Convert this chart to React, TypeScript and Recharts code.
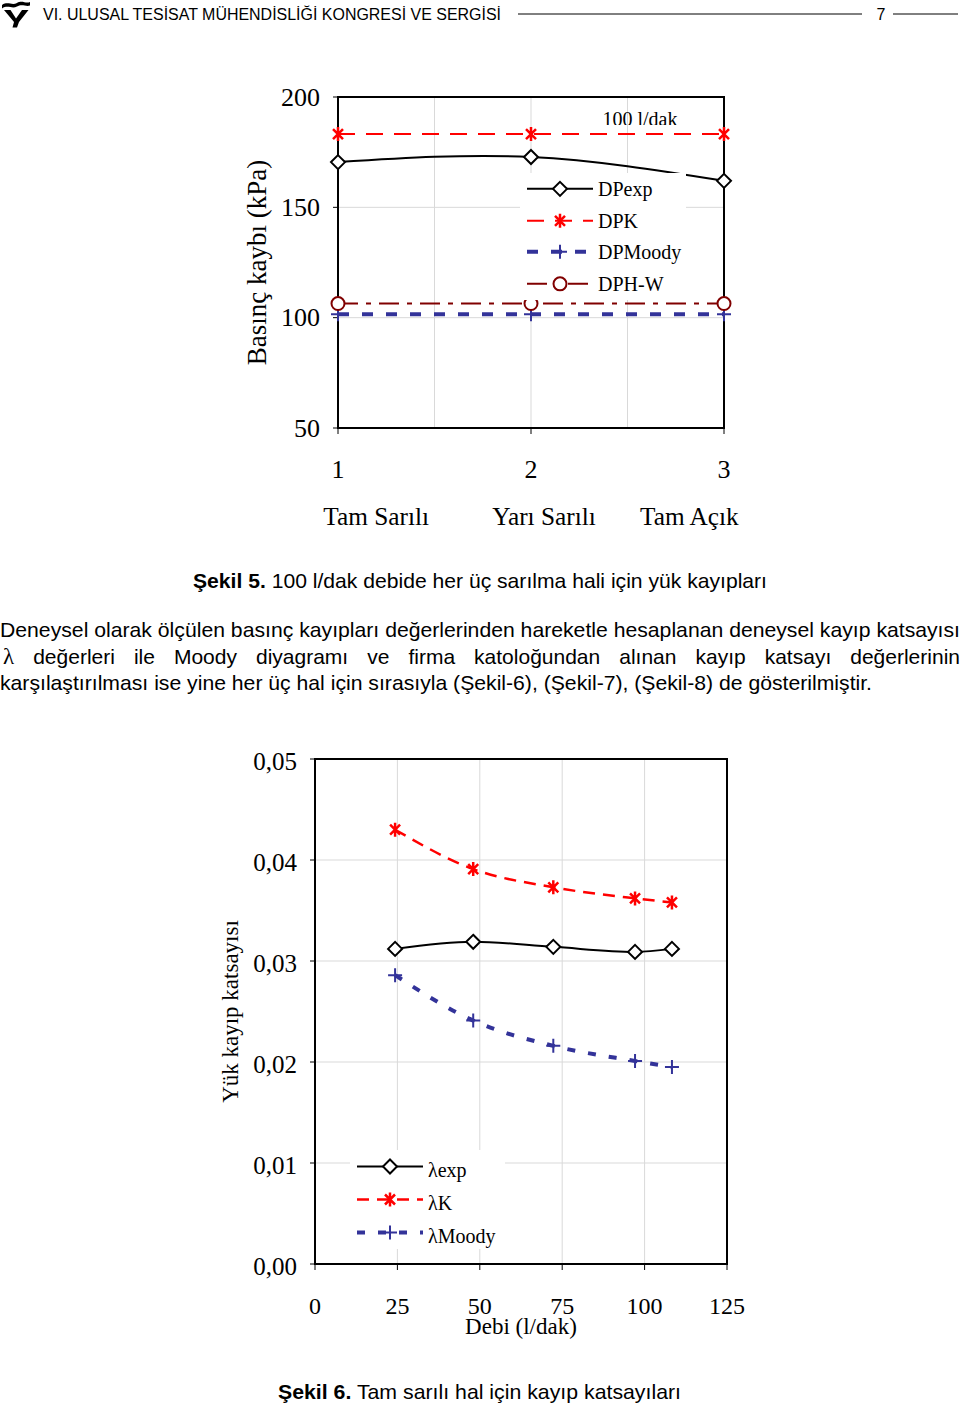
import React from 'react';
import { LineChart, Line, XAxis, YAxis, CartesianGrid, ReferenceArea, Legend } from 'recharts';

const SERIF = '"Liberation Serif", "Times New Roman", Times, serif';
const SANS = '"Liberation Sans", Arial, Helvetica, sans-serif';

// ---------- Şekil 5 data ----------
const caseNo = [1, 2, 3];
const dpExp = [170.5, 172.8, 162.0];
const dpK = [183.2, 183.2, 183.2];
const dpMoody = [101.6, 101.6, 101.6];
const dpHW = [106.4, 106.4, 106.4];
const yTicks5 = [50, 100, 150, 200];
const xTicks5 = [1, 1.5, 2, 2.5, 3];
const xLabels5 = [1, 2, 3];
const caseNames = ['Tam Sarılı', 'Yarı Sarılı', 'Tam Açık'];
const names5 = ['DPexp', 'DPK', 'DPMoody', 'DPH-W'];
const title5 = '100 l/dak';

// ---------- Şekil 6 data ----------
const flow = [24.3, 48.0, 72.3, 97.1, 108.3];
const lamExp = [0.0312, 0.0319, 0.0314, 0.0309, 0.0312];
const lamK = [0.043, 0.0391, 0.0373, 0.0362, 0.0358];
const lamMoody = [0.0286, 0.0241, 0.0216, 0.0201, 0.0195];
const xTicks6 = [0, 25, 50, 75, 100, 125];
const yTicks6 = [0, 0.01, 0.02, 0.03, 0.04, 0.05];
const names6 = ['λexp', 'λK', 'λMoody'];

const data5 = caseNo.map((c, i) => ({ c, exp: dpExp[i], k: dpK[i], moody: dpMoody[i], hw: dpHW[i] }));
const data6 = flow.map((q, i) => ({ q, exp: lamExp[i], k: lamK[i], moody: lamMoody[i] }));

const BLACK = '#000000';
const RED = '#ff0000';
const NAVY = '#333399';
const MAROON = '#800000';
const GRID = '#d9d9d9';

type SeriesStyle = { key: string; color: string; width: number; dash?: string; marker: string; curve: any };

const style5: SeriesStyle[] = [
  { key: 'exp', color: BLACK, width: 2, marker: 'diamond', curve: 'natural' },
  { key: 'k', color: RED, width: 2, dash: '17 11', marker: 'star', curve: 'linear' },
  { key: 'moody', color: NAVY, width: 4, dash: '11 13', marker: 'plus', curve: 'linear' },
  { key: 'hw', color: MAROON, width: 2, dash: '20 8 5 8', marker: 'circle', curve: 'linear' },
];

const style6: SeriesStyle[] = [
  { key: 'exp', color: BLACK, width: 2, marker: 'diamond', curve: 'monotone' },
  { key: 'k', color: RED, width: 2.5, dash: '12 8', marker: 'star', curve: 'monotone' },
  { key: 'moody', color: NAVY, width: 4, dash: '8 13', marker: 'plus', curve: 'monotone' },
];

const Marker = ({ kind, cx, cy }: { kind: string; cx: number; cy: number }) => {
  if (cx == null || cy == null) return null;
  switch (kind) {
    case 'diamond':
      return (
        <path
          d={`M${cx},${cy - 7}L${cx + 7},${cy}L${cx},${cy + 7}L${cx - 7},${cy}Z`}
          fill="#fff"
          stroke={BLACK}
          strokeWidth={2}
        />
      );
    case 'star':
      return (
        <path
          d={`M${cx - 5},${cy - 5}L${cx + 5},${cy + 5}M${cx - 5},${cy + 5}L${cx + 5},${cy - 5}M${cx},${cy - 7}L${cx},${cy + 7}`}
          stroke={RED}
          strokeWidth={2.5}
          fill="none"
        />
      );
    case 'plus':
      return (
        <path
          d={`M${cx - 7},${cy}L${cx + 7},${cy}M${cx},${cy - 7}L${cx},${cy + 7}`}
          stroke={NAVY}
          strokeWidth={2}
          fill="none"
        />
      );
    case 'circle':
      return <circle cx={cx} cy={cy} r={6.5} fill="#fff" stroke={MAROON} strokeWidth={2} />;
  }
  return null;
};

const LegendBox = ({ names, styles, rowH, textDy }: { names: string[]; styles: SeriesStyle[]; rowH: number; textDy: number }) => (
  <div style={{ background: '#fff', fontFamily: SERIF, fontSize: 20, color: '#000' }}>
    {styles.map((s, i) => (
      <div key={s.key} style={{ display: 'flex', alignItems: 'center', height: rowH, whiteSpace: 'nowrap' }}>
        <svg width={78} height={rowH} style={{ display: 'block', flex: 'none' }}>
          <line x1={7} x2={73} y1={rowH / 2} y2={rowH / 2} stroke={s.color} strokeWidth={s.width} strokeDasharray={s.dash} />
          <Marker kind={s.marker} cx={40} cy={rowH / 2} />
        </svg>
        <span style={{ lineHeight: `${rowH}px`, position: 'relative', top: textDy }}>{names[i]}</span>
      </div>
    ))}
  </div>
);

const YTick5 = (p: any) => (
  <text x={p.x} y={p.y} textAnchor="end" dominantBaseline="central" fontFamily={SERIF} fontSize={26} fill="#000">
    {p.payload.value}
  </text>
);

const XTick5 = (p: any) => {
  const v = p.payload.value;
  if (!xLabels5.includes(v)) return <g />;
  return (
    <g>
      <line x1={p.x} x2={p.x} y1={p.y - 41} y2={p.y - 35} stroke="#000" strokeWidth={1} />
      <text x={p.x} y={p.y} textAnchor="middle" dominantBaseline="central" fontFamily={SERIF} fontSize={26} fill="#000">
        {v}
      </text>
    </g>
  );
};

const fmt6 = (v: number) => v.toFixed(2).replace('.', ',');

const YTick6 = (p: any) => (
  <text x={p.x} y={p.y + 2} textAnchor="end" dominantBaseline="central" fontFamily={SERIF} fontSize={25} fill="#000">
    {fmt6(p.payload.value)}
  </text>
);

const XTick6 = (p: any) => (
  <text x={p.x} y={p.y} textAnchor="middle" dominantBaseline="central" fontFamily={SERIF} fontSize={24} fill="#000">
    {p.payload.value}
  </text>
);

const NB = '\u00A0';

const Chart5 = () => (
  <LineChart width={960} height={560} data={data5} margin={{ top: 97, right: 236, bottom: 32, left: 278 }}>
    <CartesianGrid stroke={GRID} strokeWidth={1} />
    <XAxis
      type="number"
      dataKey="c"
      domain={[1, 3]}
      ticks={xTicks5}
      interval={0}
      height={100}
      axisLine={false}
      tickLine={false}
      tickSize={6}
      tickMargin={35}
      tick={XTick5}
      label={(p: any) => {
        const vb = p && p.viewBox;
        if (!vb) return null;
        const cx = vb.x + vb.width / 2;
        const cy = vb.y + 88;
        return (
          <text x={cx} y={cy} textAnchor="middle" dominantBaseline="central" fontFamily={SERIF} fontSize={25.3} fill="#000">
            {caseNames[0] + NB.repeat(10) + caseNames[1] + NB.repeat(7) + caseNames[2]}
          </text>
        );
      }}
    />
    <YAxis
      type="number"
      domain={[50, 200]}
      ticks={yTicks5}
      interval={0}
      width={60}
      axisLine={false}
      tickLine={{ stroke: '#000', strokeWidth: 1 }}
      tickSize={5}
      tickMargin={13}
      tick={YTick5}
      label={(p: any) => {
        const vb = p && p.viewBox;
        if (!vb) return null;
        const cx = vb.x - 21;
        const cy = vb.y + vb.height / 2;
        return (
          <text
            x={cx}
            y={cy}
            transform={`rotate(-90 ${cx} ${cy})`}
            textAnchor="middle"
            dominantBaseline="central"
            fontFamily={SERIF}
            fontSize={27}
            fill="#000"
          >
            Basınç kaybı (kPa)
          </text>
        );
      }}
    />
    <ReferenceArea x1={1} x2={3} y1={50} y2={200} fill="none" stroke="#000" strokeWidth={2} ifOverflow="visible" />
    {style5.map((s, i) => (
      <Line
        key={s.key}
        name={names5[i]}
        dataKey={s.key}
        type={s.curve}
        stroke={s.color}
        strokeWidth={s.width}
        strokeDasharray={s.dash}
        isAnimationActive={false}
        activeDot={false}
        dot={(p: any) => <Marker key={`${s.key}-${p.index}`} kind={s.marker} cx={p.cx} cy={p.cy} />}
      />
    ))}
    <Legend
      layout="vertical"
      align="center"
      verticalAlign="middle"
      wrapperStyle={{ left: 520, top: 173, width: 166 }}
      content={() => <LegendBox names={names5} styles={style5} rowH={31.7} textDy={1} />}
    />
  </LineChart>
);

const Chart6 = () => (
  <LineChart width={960} height={680} data={data6} margin={{ top: 59, right: 233, bottom: 36, left: 255 }}>
    <CartesianGrid stroke={GRID} strokeWidth={1} />
    <XAxis
      type="number"
      dataKey="q"
      domain={[0, 125]}
      ticks={xTicks6}
      interval={0}
      height={80}
      axisLine={false}
      tickLine={{ stroke: '#000', strokeWidth: 1 }}
      tickSize={6}
      tickMargin={36}
      tick={XTick6}
      label={(p: any) => {
        const vb = p && p.viewBox;
        if (!vb) return null;
        const cx = vb.x + vb.width / 2;
        const cy = vb.y + 62;
        return (
          <text x={cx} y={cy} textAnchor="middle" dominantBaseline="central" fontFamily={SERIF} fontSize={23} fill="#000">
            Debi (l/dak)
          </text>
        );
      }}
    />
    <YAxis
      type="number"
      domain={[0, 0.05]}
      ticks={yTicks6}
      interval={0}
      width={60}
      axisLine={false}
      tickLine={{ stroke: '#000', strokeWidth: 1 }}
      tickSize={5}
      tickMargin={13}
      tick={YTick6}
      label={(p: any) => {
        const vb = p && p.viewBox;
        if (!vb) return null;
        const cx = vb.x - 25;
        const cy = vb.y + vb.height / 2;
        return (
          <text
            x={cx}
            y={cy}
            transform={`rotate(-90 ${cx} ${cy})`}
            textAnchor="middle"
            dominantBaseline="central"
            fontFamily={SERIF}
            fontSize={23}
            fill="#000"
          >
            Yük kayıp katsayısı
          </text>
        );
      }}
    />
    <ReferenceArea x1={0} x2={125} y1={0} y2={0.05} fill="none" stroke="#000" strokeWidth={2} ifOverflow="visible" />
    {style6.map((s, i) => (
      <Line
        key={s.key}
        name={names6[i]}
        dataKey={s.key}
        type={s.curve}
        stroke={s.color}
        strokeWidth={s.width}
        strokeDasharray={s.dash}
        isAnimationActive={false}
        activeDot={false}
        dot={(p: any) => <Marker key={`${s.key}-${p.index}`} kind={s.marker} cx={p.cx} cy={p.cy} />}
      />
    ))}
    <Legend
      layout="vertical"
      align="center"
      verticalAlign="middle"
      wrapperStyle={{ left: 350, top: 450, width: 155 }}
      content={() => <LegendBox names={names6} styles={style6} rowH={33} textDy={4} />}
    />
  </LineChart>
);

const headerText = 'VI. ULUSAL TESİSAT MÜHENDİSLİĞİ KONGRESİ VE SERGİSİ';
const pageNo = '7';
const caption5 = ['Şekil 5.', ' 100 l/dak debide her üç sarılma hali için yük kayıpları'];
const caption6 = ['Şekil 6.', ' Tam sarılı hal için kayıp katsayıları'];
const paraLine1 = 'Deneysel olarak ölçülen basınç kayıpları değerlerinden hareketle hesaplanan deneysel kayıp katsayısı';
const paraLine2 = ['değerleri', 'ile', 'Moody', 'diyagramı', 've', 'firma', 'katoloğundan', 'alınan', 'kayıp', 'katsayı', 'değerlerinin'];
const paraLine3 = 'karşılaştırılması ise yine her üç hal için sırasıyla (Şekil-6), (Şekil-7), (Şekil-8) de gösterilmiştir.';

export default function App() {
  return (
    <div style={{ position: 'absolute', left: 0, top: 0, width: 960, height: 1403, background: '#fff', overflow: 'hidden' }}>
      <svg width={960} height={1403} style={{ position: 'absolute', left: 0, top: 0 }}>
        {/* header logo */}
        <path d="M2,5 C8,1 12,6 17,3 C22,0 26,4 30,2 L30,5.5 C26,7 22,3.5 17,6.5 C12,9.5 8,4.5 2,8.5 Z" fill="#000" />
        <path d="M4,10 L10.5,10 L16,18.5 L22,10 L28.5,10 L19,22 L17,27.5 L12.5,27.5 L14,22 Z" fill="#000" />
        <text x={43} y={14} dominantBaseline="central" fontFamily={SANS} fontSize={16} fill="#000" textLength={458} lengthAdjust="spacingAndGlyphs">
          {headerText}
        </text>
        <line x1={518} x2={862} y1={14} y2={14} stroke="#000" strokeWidth={1} />
        <text x={881} y={14} dominantBaseline="central" textAnchor="middle" fontFamily={SANS} fontSize={16} fill="#000">
          {pageNo}
        </text>
        <line x1={893} x2={958} y1={14} y2={14} stroke="#000" strokeWidth={1} />
        {/* caption 5 */}
        <text x={193} y={580} dominantBaseline="central" fontFamily={SANS} fontSize={21} fill="#000" textLength={574} lengthAdjust="spacingAndGlyphs">
          <tspan fontWeight="bold">{caption5[0]}</tspan>
          <tspan>{caption5[1]}</tspan>
        </text>
        {/* paragraph */}
        <text x={0} y={629} dominantBaseline="central" fontFamily={SANS} fontSize={21} fill="#000" textLength={960} lengthAdjust="spacingAndGlyphs">
          {paraLine1}
        </text>
        <text x={0} y={682} dominantBaseline="central" fontFamily={SANS} fontSize={21} fill="#000" textLength={872} lengthAdjust="spacingAndGlyphs">
          {paraLine3}
        </text>
        {/* caption 6 */}
        <text x={278} y={1391} dominantBaseline="central" fontFamily={SANS} fontSize={21} fill="#000" textLength={403} lengthAdjust="spacingAndGlyphs">
          <tspan fontWeight="bold">{caption6[0]}</tspan>
          <tspan>{caption6[1]}</tspan>
        </text>
      </svg>
      <div
        style={{
          position: 'absolute',
          left: 0,
          top: 644,
          width: 960,
          height: 26,
          display: 'flex',
          justifyContent: 'space-between',
          alignItems: 'center',
          fontFamily: SANS,
          fontSize: 21,
          lineHeight: '26px',
          color: '#000',
          whiteSpace: 'nowrap',
        }}
      >
        <span style={{ fontFamily: SERIF, fontSize: 23, paddingLeft: 3 }}>λ</span>
        {paraLine2.map((w, i) => (
          <span key={i}>{w}</span>
        ))}
      </div>
      <div style={{ position: 'absolute', left: 0, top: 0 }}>
        <Chart5 />
      </div>
      <div
        style={{
          position: 'absolute',
          left: 540,
          top: 106,
          width: 200,
          height: 19,
          overflow: 'hidden',
          textAlign: 'center',
          fontFamily: SERIF,
          fontSize: 20,
          lineHeight: '26px',
          color: '#000',
        }}
      >
        {title5}
      </div>
      <div style={{ position: 'absolute', left: 0, top: 700 }}>
        <Chart6 />
      </div>
    </div>
  );
}
